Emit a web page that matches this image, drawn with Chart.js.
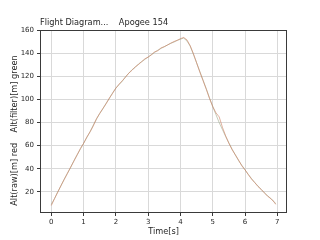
<!DOCTYPE html>
<html><head><meta charset="utf-8">
<script src="https://cdn.jsdelivr.net/npm/chart.js@4/dist/chart.umd.min.js"></script>
<style>html,body{margin:0;padding:0;background:#fff;}#wrap{width:320px;height:240px;}</style>
</head><body><div id="wrap"><canvas id="c" width="320" height="240"></canvas></div>
<script>
const chartTitle = "Flight Diagram...    Apogee 154";
const xLabel = "Time[s]";
const yLabel = "Alt(raw)[m] red    Alt(filter)[m] green";
const timeS = [0,0.1,0.2,0.3,0.4,0.5,0.6,0.7,0.8,0.9,1.0,1.1,1.2,1.3,1.4,1.5,1.6,1.7,1.8,1.9,2.0,2.1,2.2,2.3,2.4,2.5,2.6,2.7,2.8,2.9,3.0,3.1,3.2,3.3,3.4,3.5,3.6,3.7,3.8,3.9,4.0,4.1,4.2,4.3,4.4,4.5,4.6,4.7,4.8,4.9,5.0,5.1,5.2,5.3,5.4,5.5,5.6,5.7,5.8,5.9,6.0,6.1,6.2,6.3,6.4,6.5,6.6,6.7,6.8,6.9,6.95];
const altRaw = [8,14,19.5,25.5,30.5,36,41.5,46.5,52,57.5,62,67.5,72,77,83.5,88,92.5,96.5,101.5,105.5,110,113.5,116.5,119.5,123,125.5,128.5,130.5,133,135.5,137,139,141.5,142.5,145,146,147.5,149,150.5,151.5,153,154,152,147,140,132,124,116.5,109,101,94,88.5,85,76,68.5,62,56.5,52,47.5,42.5,39,35,31,28,24.5,22,19,16,14,11,9];
const altFilter = [9,14,20,25,31,36,41,47,52,57,62,67,72,78,83,88,92,97,101,106,110,113,116,120,123,126,128,131,133,135,137,139,141,143,144.5,146,147.5,149,150,151.5,152.5,153.5,151,146.5,139.5,132,124.5,117,109.5,101.5,94,87,80,74,68,62.5,57,52,47,43,39,35,31.5,28,25,22,19,16.5,14,11.5,9.5];
const xTicks = [0,1,2,3,4,5,6,7];
const yTicks = [20,40,60,80,100,120,140,160];

const pts = (ys) => timeS.map((t,i)=>({x:t,y:ys[i]}));
const txtColor = '#262626';
const font = 'DejaVu Sans';

const decor = {
  id:'decor',
  beforeDatasetsDraw(chart){
    const {ctx, chartArea:a} = chart;
    ctx.save();
    ctx.strokeStyle = '#3a3a3a';
    ctx.lineWidth = 1;
    ctx.strokeRect(Math.round(a.left)+0.5, Math.round(a.top)+0.5, Math.round(a.right-a.left)-1, Math.round(a.bottom-a.top)-1);
    ctx.restore();
  },
  afterDraw(chart){
    const {ctx, chartArea:a} = chart;
    ctx.save();
    ctx.fillStyle = txtColor;
    ctx.font = '8.2px "' + font + '"';
    ctx.textAlign = 'left'; ctx.textBaseline = 'alphabetic';
    ctx.fillText(chartTitle, a.left, 25);
    ctx.textAlign = 'center';
    ctx.fillText(xLabel, (a.left+a.right)/2, 234);
    ctx.translate(17, 130.5);
    ctx.rotate(-Math.PI/2);
    ctx.fillText(yLabel, 0, 0);
    ctx.restore();
  }
};

new Chart(document.getElementById('c'), {
  type:'line',
  data:{datasets:[
    {label:'raw', data:pts(altRaw), borderColor:'rgba(205,125,95,0.6)', borderWidth:1, pointRadius:0, tension:0, fill:false},
    {label:'filter', data:pts(altFilter), borderColor:'rgba(140,155,120,0.5)', borderWidth:1, pointRadius:0, tension:0, fill:false}
  ]},
  options:{
    responsive:false, animation:false, devicePixelRatio:1,
    layout:{padding:{left:0, top:30, right:33, bottom:0}},
    plugins:{legend:{display:false}, tooltip:{enabled:false}, title:{display:false}},
    scales:{
      x:{type:'linear', min:-0.35, max:7.3,
        afterBuildTicks:(ax)=>{ax.ticks = xTicks.map(v=>({value:v}));},
        afterFit:(ax)=>{ax.height = 27;},
        border:{display:false},
        grid:{color:'#d9d9d9', tickColor:'#3a3a3a', tickLength:3, drawTicks:true},
        ticks:{color:txtColor, font:{family:font, size:7}, padding:2, maxRotation:0, autoSkip:false}
      },
      y:{type:'linear', min:1.5, max:160.5,
        afterBuildTicks:(ax)=>{ax.ticks = yTicks.map(v=>({value:v}));},
        afterFit:(ax)=>{ax.width = 40;},
        border:{display:false},
        grid:{color:'#d9d9d9', tickColor:'#3a3a3a', tickLength:3, drawTicks:true},
        ticks:{color:txtColor, font:{family:font, size:7}, padding:3, autoSkip:false}
      }
    }
  },
  plugins:[decor]
});
</script></body></html>
